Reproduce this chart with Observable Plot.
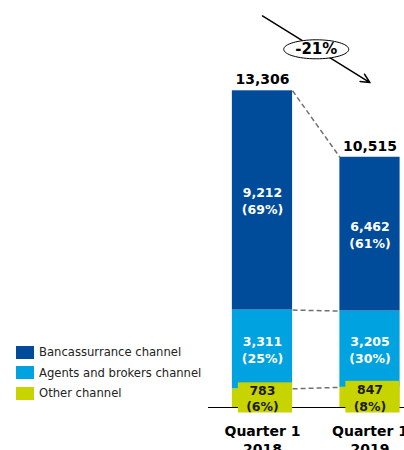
<!DOCTYPE html>
<html><head><meta charset="utf-8">
<script src="https://cdn.jsdelivr.net/npm/d3@7"></script>
<script src="https://cdn.jsdelivr.net/npm/@observablehq/plot@0.6"></script>
<style>
body{margin:0;background:#fff}
#wrap{position:relative;width:404px;height:450px;overflow:hidden;background:#fff}
.legend{position:absolute;left:16px;top:342px;font-family:"DejaVu Sans",sans-serif;font-size:11.6px;color:#222}
.row{display:flex;align-items:center;height:20.5px}
.sw{width:18px;height:13px;margin-right:5px}
</style></head>
<body><div id="wrap"></div>
<script>
const categories = ["Quarter 1\n2018", "Quarter 1\n2019"];
const channels = ["Other channel", "Agents and brokers channel", "Bancassurrance channel"];
const colors = ["#C8D400", "#00A3E0", "#004C9A"];
const otherValues = [783, 847];
const agentsValues = [3311, 3205];
const bancValues = [9212, 6462];
const otherPct = [6, 8];
const agentsPct = [25, 30];
const bancPct = [69, 61];
const totals = [13306, 10515];
const changeLabel = "-21%";

const fmt = d3.format(",");
const half = 0.28;
const series = [otherValues, agentsValues, bancValues];
const pcts = [otherPct, agentsPct, bancPct];

const segs = [];
categories.forEach((c, i) => {
  let base = 0;
  series.forEach((vals, k) => {
    const v = vals[i];
    segs.push({i, k, channel: channels[k], y1: base, y2: base + v, label: fmt(v) + "\n(" + pcts[k][i] + "%)"});
    base += v;
  });
});
const levels = [0, 1, 2].map(k => ({
  a: segs.find(s => s.i === 0 && s.k === k).y2,
  b: segs.find(s => s.i === 1 && s.k === k).y2
}));
const arrowTop = 16450, arrowBottom = 13650;

const ellipse = {
  draw(ctx) {
    const rx = 32.5, ry = 9.5, k = 0.5523;
    ctx.moveTo(rx, 0);
    ctx.bezierCurveTo(rx, k*ry, k*rx, ry, 0, ry);
    ctx.bezierCurveTo(-k*rx, ry, -rx, k*ry, -rx, 0);
    ctx.bezierCurveTo(-rx, -k*ry, -k*rx, -ry, 0, -ry);
    ctx.bezierCurveTo(k*rx, -ry, rx, -k*ry, rx, 0);
    ctx.closePath();
  }
};

const otherSegs = segs.filter(d => d.k === 0);

const chart = Plot.plot({
  width: 404, height: 450,
  marginLeft: 208, marginRight: 0, marginTop: 0, marginBottom: 43,
  style: {fontFamily: "DejaVu Sans, sans-serif", background: "#fff"},
  x: {domain: [-0.502, 1.321], axis: null},
  y: {domain: [0, 17100], axis: null},
  color: {domain: channels, range: colors},
  marks: [
    Plot.rectY(segs, {x1: d => d.i - half, x2: d => d.i + half, y1: "y1", y2: "y2", fill: "channel"}),
    Plot.link(levels, {x1: 0 + half, x2: 1 - half, y1: "a", y2: "b", stroke: "#707070", strokeWidth: 1.5, strokeDasharray: "5,3"}),
    Plot.ruleY([0], {stroke: "#000", strokeWidth: 1}),
    Plot.rectY(otherSegs, {x1: d => d.i - half, x2: d => d.i + half, y1: "y1", y2: "y2", fill: "channel", insetLeft: 6, insetTop: -6, insetBottom: -5.5}),
    Plot.text(segs.filter(d => d.k > 0), {x: "i", y: d => (d.y1 + d.y2) / 2, text: "label", fill: "#fff", fontWeight: "bold", fontSize: 12.5, lineHeight: 1.36}),
    Plot.text(otherSegs, {x: "i", y: d => (d.y1 + d.y2) / 2, text: "label", fill: "#1a1a1a", fontWeight: "bold", fontSize: 12.5, lineHeight: 1.3}),
    Plot.text(totals, {x: (d, i) => i, y: d => d, text: d => fmt(d), dy: -11, fontWeight: "bold", fontSize: 14, fill: "#000"}),
    Plot.text(categories, {x: (d, i) => i, y: 0, text: d => d, dy: 32, fontWeight: "bold", fontSize: 14, lineHeight: 1.3, fill: "#000"}),
    Plot.arrow([0], {x1: 0, x2: 1, y1: arrowTop, y2: arrowBottom, stroke: "#000", strokeWidth: 1.5, headLength: 10, headAngle: 50, bend: 0}),
    Plot.dot([0], {x: 0.5, y: (arrowTop + arrowBottom) / 2, symbol: ellipse, fill: "#fff", stroke: "#000", strokeWidth: 1}),
    Plot.text([changeLabel], {x: 0.5, y: (arrowTop + arrowBottom) / 2, text: d => d, fontWeight: "bold", fontSize: 15, fill: "#000"})
  ]
});
const wrap = document.getElementById("wrap");
wrap.appendChild(chart);
const legend = document.createElement("div");
legend.className = "legend";
[2, 1, 0].forEach(k => {
  const row = document.createElement("div");
  row.className = "row";
  const sw = document.createElement("div");
  sw.className = "sw"; sw.style.background = colors[k];
  const t = document.createElement("span");
  t.textContent = channels[k];
  row.appendChild(sw); row.appendChild(t);
  legend.appendChild(row);
});
wrap.appendChild(legend);
</script></body></html>
